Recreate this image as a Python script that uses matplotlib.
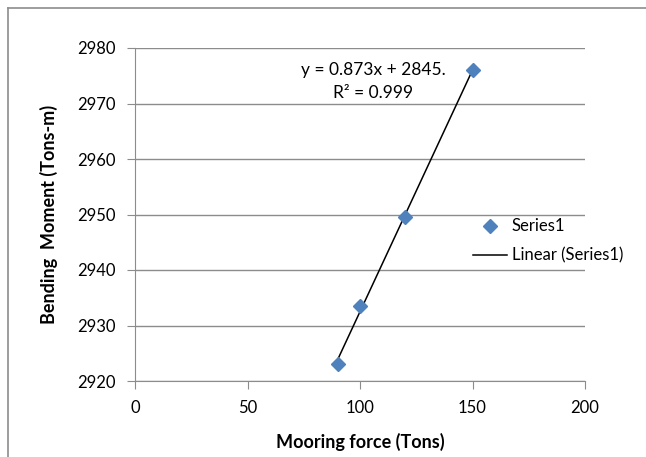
import numpy as np
import matplotlib
matplotlib.use('Agg')
import matplotlib.pyplot as plt

# Data
force = [90, 100, 120, 150]
moment = [2923.1, 2933.5, 2949.6, 2976.0]
xticks = [0, 50, 100, 150, 200]
yticks = [2920, 2930, 2940, 2950, 2960, 2970, 2980]

plt.rcParams['font.family'] = ['Lato', 'DejaVu Sans']

W, H = 646, 457
fig = plt.figure(figsize=(W / 100, H / 100), dpi=100)

# chart area border (top/left visible only)
fig.add_artist(plt.Line2D([8 / W, 1], [1 - 8 / H, 1 - 8 / H], color='#8c8c8c', lw=1.2))
fig.add_artist(plt.Line2D([8 / W, 8 / W], [0, 1 - 8 / H], color='#8c8c8c', lw=1.2))

ax = fig.add_axes([135 / W, 1 - 381 / H, (585 - 135) / W, (381 - 48) / H])

ax.set_xlim(0, 200)
ax.set_ylim(2920, 2980)
ax.set_xticks(xticks)
ax.set_yticks(yticks)
ax.grid(axis='y', color='#8c8c8c', lw=1)
ax.set_axisbelow(True)
for s in ['top', 'right']:
    ax.spines[s].set_visible(False)
for s in ['left', 'bottom']:
    ax.spines[s].set_color('#8c8c8c')
ax.tick_params(direction='out', length=6, color='#8c8c8c', labelsize=12, pad=8)

# linear trendline
slope, intercept = np.polyfit(force, moment, 1)
xs = np.array([min(force), max(force)])
ax.plot(xs, slope * xs + intercept, color='black', lw=1.1, label='Linear (Series1)', zorder=2)
ax.plot(force, moment, ls='none', marker='D', ms=7, color='#4F81BD', label='Series1', zorder=3)

ax.text(105.8, 2976.1, 'y = 0.873x + 2845.', fontsize=12.5, ha='center', va='center')
ax.text(105.8, 2971.9, 'R² = 0.999', fontsize=12.5, ha='center', va='center')

ax.set_xlabel('Mooring force (Tons)', fontsize=13, fontweight='bold', labelpad=12)
ax.set_ylabel('Bending  Moment (Tons-m)', fontsize=13, fontweight='bold', labelpad=14)

h, l = ax.get_legend_handles_labels()
ax.legend(h[::-1], l[::-1], loc='center left', bbox_to_anchor=(0.737, 0.42), frameon=False,
          fontsize=12, handlelength=2.0, handletextpad=0.3, labelspacing=0.8, borderaxespad=0)

fig.savefig('out.png', dpi=100)
